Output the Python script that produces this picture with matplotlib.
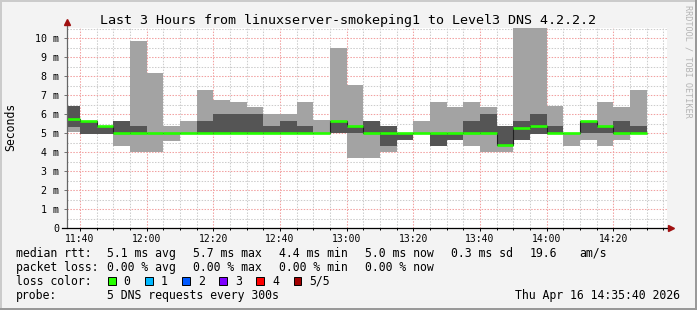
import matplotlib

matplotlib.use("Agg")
import matplotlib.pyplot as plt
from matplotlib.patches import Rectangle
from matplotlib.ticker import FuncFormatter, MultipleLocator

W, H = 697, 310
MONO = "DejaVu Sans Mono"

# 5-minute slots, sorted ping results (5 DNS requests per slot), ms
slot_times = [
    "11:35", "11:40", "11:45", "11:50", "11:55", "12:00", "12:05", "12:10", "12:15",
    "12:20", "12:25", "12:30", "12:35", "12:40", "12:45", "12:50", "12:55", "13:00",
    "13:05", "13:10", "13:15", "13:20", "13:25", "13:30", "13:35", "13:40", "13:45",
    "13:50", "13:55", "14:00", "14:05", "14:10", "14:15", "14:20", "14:25",
]
ping_min = [
    5.05, 4.98, 4.98, 4.35, 4.00, 4.00, 4.61, 5.00, 5.00,
    5.00, 5.00, 5.00, 5.00, 5.00, 5.00, 5.00, 5.00, 3.72,
    3.68, 4.00, 4.67, 5.00, 4.35, 4.67, 4.35, 4.00, 4.00,
    4.67, 4.96, 5.00, 4.35, 4.67, 4.35, 4.67, 5.00,
]
ping_q1 = [
    5.35, 4.98, 4.98, 5.00, 5.00, 5.00, 5.00, 5.00, 5.00,
    5.00, 5.00, 5.00, 5.00, 5.00, 5.00, 5.00, 5.00, 5.00,
    5.00, 4.35, 4.67, 5.00, 4.35, 4.67, 5.00, 5.00, 4.37,
    4.67, 4.96, 5.00, 5.00, 5.00, 5.00, 5.00, 5.00,
]
median_rtt = [
    5.73, 5.63, 5.37, 5.00, 5.00, 5.00, 5.00, 5.00, 5.00,
    5.00, 5.00, 5.00, 5.00, 5.00, 5.00, 5.00, 5.65, 5.37,
    5.00, 5.00, 5.00, 5.00, 5.00, 5.00, 5.00, 5.00, 4.37,
    5.30, 5.39, 5.00, 5.00, 5.65, 5.39, 5.00, 5.00,
]
ping_q3 = [
    6.44, 5.63, 5.37, 5.65, 5.39, 5.00, 5.00, 5.00, 5.65,
    6.02, 6.02, 6.02, 5.39, 5.65, 5.39, 5.00, 5.65, 5.37,
    5.65, 5.39, 5.00, 5.00, 5.00, 5.00, 5.65, 6.02, 5.39,
    5.65, 6.02, 5.39, 5.00, 5.65, 5.39, 5.65, 5.39,
]
ping_max = [
    6.44, 5.63, 5.37, 5.65, 9.88, 8.18, 5.39, 5.65, 7.28,
    6.75, 6.65, 6.40, 6.02, 6.02, 6.65, 5.70, 9.51, 7.54,
    5.65, 5.39, 5.00, 5.65, 6.65, 6.40, 6.65, 6.40, 5.39,
    11.20, 11.20, 6.44, 5.00, 5.65, 6.65, 6.40, 7.28,
]

rtt_legend = [("median rtt:", 16), ("5.1 ms avg", 107), ("5.7 ms max", 193),
              ("4.4 ms min", 279), ("5.0 ms now", 365), ("0.3 ms sd", 451),
              ("19.6", 530), ("am/s", 579)]
loss_legend = [("packet loss:", 16), ("0.00 % avg", 107), ("0.00 % max", 193),
               ("0.00 % min", 279), ("0.00 % now", 365)]
loss_colors = ["#26ff00", "#00b8ff", "#0059ff", "#7e00ff", "#ff0000", "#a10000"]
loss_labels = ["0", "1", "2", "3", "4", "5/5"]


def to_min(t):
    h, m = t.split(":")
    return int(h) * 60 + int(m)


def fx(x):
    return x / W


def fy(y):
    return 1 - y / H


starts = [to_min(t) for t in slot_times]
edges = starts + [starts[-1] + 5]

fig = plt.figure(figsize=(W / 100, H / 100), dpi=100, facecolor="#f3f3f3")
ax = fig.add_axes([fx(66.5), fy(228.3), 600 / W, (228.3 - 27.85) / H])
ax.set_facecolor("white")

# smoke: outer pings light, inner pings dark
ax.bar(starts, [hi - lo for lo, hi in zip(ping_min, ping_max)], bottom=ping_min,
       width=5, align="edge", color="#a3a3a3", linewidth=0, antialiased=False, zorder=2)
ax.bar(starts, [q3 - q1 for q1, q3 in zip(ping_q1, ping_q3)], bottom=ping_q1,
       width=5, align="edge", color="#555555", linewidth=0, antialiased=False, zorder=3)
ax.stairs(median_rtt, edges, baseline=None, color="#202020", linewidth=0.8, zorder=4)
ax.hlines(median_rtt, starts, edges[1:], color=loss_colors[0], linewidth=1.9,
          capstyle="butt", zorder=5)

ax.set_xlim(to_min("11:36"), to_min("14:36"))
ax.set_ylim(0, 10.55)

ax.xaxis.set_major_locator(MultipleLocator(20))
ax.xaxis.set_minor_locator(MultipleLocator(5))
ax.xaxis.set_major_formatter(FuncFormatter(lambda v, p: f"{int(v) // 60}:{int(v) % 60:02d}"))
ax.yaxis.set_major_locator(MultipleLocator(1))
ax.yaxis.set_minor_locator(MultipleLocator(0.5))
ax.yaxis.set_major_formatter(FuncFormatter(lambda v, p: "0" if v == 0 else f"{int(v)} m"))

ax.set_axisbelow(True)
ax.grid(which="minor", color="#cccccc", linewidth=0.75, linestyle=(0, (1.4, 1.4)))
ax.grid(which="major", color="#f2a0a0", linewidth=0.75, linestyle=(0, (1.4, 1.4)))

ax.tick_params(axis="x", which="major", length=2.5, width=0.7, color="black",
               pad=1.8, labelsize=7.0, labelfontfamily=MONO)
ax.tick_params(axis="x", which="minor", length=1.5, width=0.7, color="black")
ax.tick_params(axis="y", which="major", length=2, width=0.7, color="#707070",
               pad=3.2, labelsize=7.2, labelfontfamily=MONO)
ax.tick_params(axis="y", which="minor", length=0)

for s in ax.spines.values():
    s.set_visible(False)
ax.plot([0, 0], [0, 1.025], transform=ax.transAxes, color="#666666", lw=0.9,
        clip_on=False, zorder=6)
ax.plot([-0.008, 1.006], [0, 0], transform=ax.transAxes, color="black", lw=0.9,
        clip_on=False, zorder=6)
ax.plot([0], [1.03], transform=ax.transAxes, marker="^", markersize=4.5,
        color="#a01010", clip_on=False, zorder=7)
ax.plot([1.008], [0], transform=ax.transAxes, marker=">", markersize=4.5,
        color="#a01010", clip_on=False, zorder=7)

fig.text(fx(348), fy(24), "Last 3 Hours from linuxserver-smokeping1 to Level3 DNS 4.2.2.2",
         ha="center", va="baseline", fontsize=9.6, family=MONO)
fig.text(fx(11), fy(127), "Seconds", rotation=90, ha="center", va="center",
         fontsize=8.3, family=MONO)
fig.text(fx(688), fy(5), "RRDTOOL / TOBI OETIKER", rotation=-90, ha="center", va="top",
         fontsize=6.1, family=MONO, color="#b4b4b4")

for text, x in rtt_legend:
    fig.text(fx(x), fy(257), text, ha="left", va="baseline", fontsize=8.3, family=MONO)
for text, x in loss_legend:
    fig.text(fx(x), fy(271), text, ha="left", va="baseline", fontsize=8.3, family=MONO)
fig.text(fx(16), fy(285), "loss color:", ha="left", va="baseline", fontsize=8.3, family=MONO)
for i, (col, lab) in enumerate(zip(loss_colors, loss_labels)):
    x0 = 108 + i * 37.1
    fig.patches.append(Rectangle((fx(x0), fy(284.5)), 7.5 / W, 7.5 / H, transform=fig.transFigure,
                                 facecolor=col, edgecolor="black", linewidth=0.7))
    fig.text(fx(x0 + 15.6), fy(285), lab, ha="left", va="baseline", fontsize=8.3, family=MONO)
fig.text(fx(16), fy(299), "probe:", ha="left", va="baseline", fontsize=8.3, family=MONO)
fig.text(fx(107), fy(299), "5 DNS requests every 300s", ha="left", va="baseline",
         fontsize=8.3, family=MONO)
fig.text(fx(680), fy(299), "Thu Apr 16 14:35:40 2026", ha="right", va="baseline",
         fontsize=8.3, family=MONO)

# 3D frame around the canvas
fig.patches.append(Rectangle((0, 1 - 2 / H), 1, 2 / H, transform=fig.transFigure,
                             facecolor="#cbcbcb", linewidth=0))
fig.patches.append(Rectangle((0, 0), 2 / W, 1, transform=fig.transFigure,
                             facecolor="#cbcbcb", linewidth=0))
fig.patches.append(Rectangle((0, 0), 1, 2 / H, transform=fig.transFigure,
                             facecolor="#999999", linewidth=0))
fig.patches.append(Rectangle((1 - 2 / W, 0), 2 / W, 1, transform=fig.transFigure,
                             facecolor="#999999", linewidth=0))

fig.savefig("out.png", dpi=100, facecolor=fig.get_facecolor())
